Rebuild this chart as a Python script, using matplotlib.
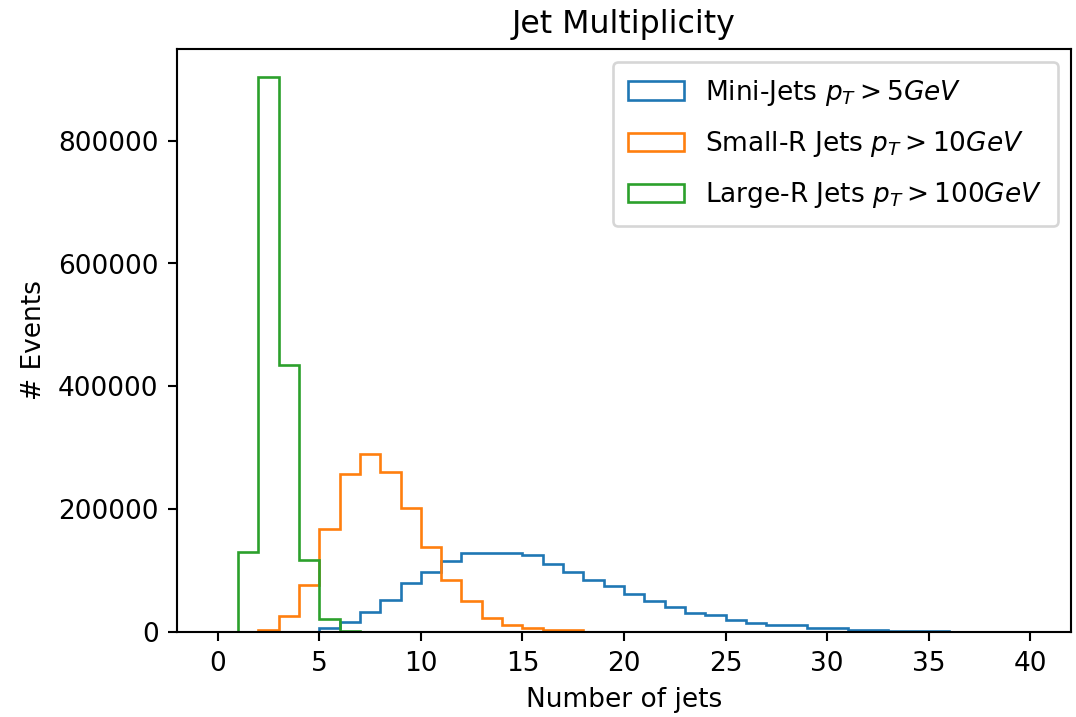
import numpy as np
import matplotlib
matplotlib.use("Agg")
import matplotlib.pyplot as plt

# jet multiplicity bins (one bin per jet count)
edges = np.arange(0, 41)
centers = edges[:-1] + 0.5

# events per bin, mini-jets pT > 5 GeV
mini_jets = [0, 0, 0, 0, 0, 7000, 16500, 33000, 52000, 80500,
             98000, 115500, 128500, 128500, 128500, 125000, 111000, 97500, 84500, 75500,
             62000, 50000, 40500, 31500, 28000, 19000, 14700, 11000, 11000, 6500,
             6500, 3000, 2700, 2400, 2000, 1700, 0, 0, 0, 0]

# events per bin, small-R jets pT > 10 GeV
small_r = [0, 0, 2700, 26000, 77000, 168000, 257000, 289000, 260000, 202000,
           138000, 85000, 50500, 23300, 11900, 7000, 4000, 3000, 0, 0,
           0, 0, 0, 0, 0, 0, 0, 0, 0, 0,
           0, 0, 0, 0, 0, 0, 0, 0, 0, 0]

# events per bin, large-R jets pT > 100 GeV
large_r = [0, 131000, 904000, 434000, 117000, 21000, 2000, 0, 0, 0,
           0, 0, 0, 0, 0, 0, 0, 0, 0, 0,
           0, 0, 0, 0, 0, 0, 0, 0, 0, 0,
           0, 0, 0, 0, 0, 0, 0, 0, 0, 0]

labels = [r"Mini-Jets $p_T > 5GeV$",
          r"Small-R Jets $p_T > 10GeV$",
          r"Large-R Jets $p_T > 100GeV$"]

fig = plt.figure(figsize=(5.6635, 3.7742), dpi=190)
ax = fig.add_axes([177 / 1076, 1 - 632 / 717, (1071 - 177) / 1076, (632 - 49) / 717])

for counts, label in zip([mini_jets, small_r, large_r], labels):
    ax.hist(centers, bins=edges, weights=counts, histtype="step", label=label)

ax.set_title("Jet Multiplicity")
ax.set_xlabel("Number of jets")
ax.set_ylabel("# Events")
ax.legend(loc="upper right", labelspacing=0.8, borderpad=0.6, handlelength=2.1)

fig.savefig("out.png", dpi=190)
